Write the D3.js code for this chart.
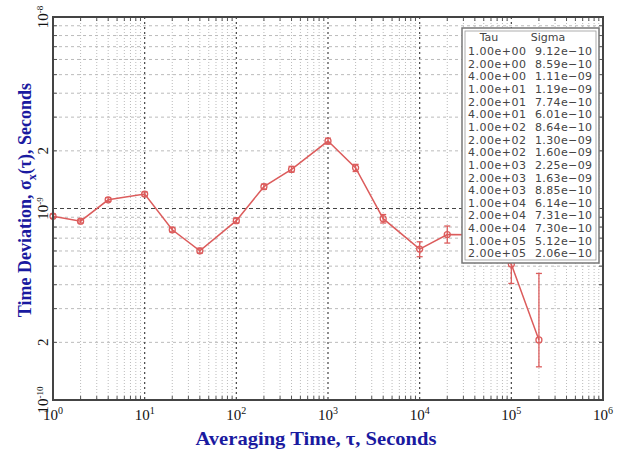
<!DOCTYPE html>
<html>
<head>
<meta charset="utf-8">
<script src="https://cdn.jsdelivr.net/npm/d3@7"></script>
<style>
body { margin: 0; background: #fff; }
svg { display: block; }
</style>
</head>
<body>
<script>
const WIDTH = 635, HEIGHT = 450;
const M = {left: 53, right: 32, top: 17, bottom: 50};
const INNER_W = WIDTH - M.left - M.right;
const INNER_H = HEIGHT - M.top - M.bottom;

var tau = [1, 2, 4, 10, 20, 40, 100, 200, 400, 1000, 2000, 4000, 1e4, 2e4, 4e4, 1e5, 2e5];
var sigma = [9.12e-10, 8.59e-10, 1.11e-9, 1.19e-9, 7.74e-10, 6.01e-10, 8.64e-10, 1.30e-9, 1.60e-9,
             2.25e-9, 1.63e-9, 8.85e-10, 6.14e-10, 7.31e-10, 7.30e-10, 5.12e-10, 2.06e-10];
var errLow = [8.9e-10, 8.4e-10, 1.09e-9, 1.16e-9, 7.55e-10, 5.85e-10, 8.4e-10, 1.26e-9, 1.55e-9,
              2.17e-9, 1.56e-9, 8.4e-10, 5.6e-10, 6.6e-10, 6.3e-10, 4.06e-10, 1.49e-10];
var errHigh = [9.35e-10, 8.8e-10, 1.14e-9, 1.22e-9, 7.95e-10, 6.2e-10, 8.9e-10, 1.34e-9, 1.66e-9,
               2.33e-9, 1.7e-9, 9.3e-10, 6.7e-10, 8.1e-10, 8.5e-10, 6.45e-10, 4.58e-10];
var xTickExp = [0, 1, 2, 3, 4, 5, 6];
var yTickLabels = [{v: 1e-8, t: "10", e: "-8"}, {v: 2e-9, t: "2", e: ""}, {v: 1e-9, t: "10", e: "-9"},
                   {v: 2e-10, t: "2", e: ""}, {v: 1e-10, t: "10", e: "-10"}];
var fmt = function(v){ return v.toExponential(2).replace(/e([+-])(\d)$/, "e$10$2"); };

var svg = d3.select('body').append('svg').attr('width', WIDTH).attr('height', HEIGHT);
var x = d3.scaleLog().domain([1, 1e6]).range([0, INNER_W]);
var y = d3.scaleLog().domain([1e-10, 1e-8]).range([INNER_H, 0]);
var g = svg.append('g').attr('transform', 'translate(' + M.left + ',' + M.top + ')');

// minor + major tick values
var xMinor = [], yMinor = [];
for (var d = 0; d < 6; d++) for (var k = 2; k < 10; k++) xMinor.push(k * Math.pow(10, d));
for (var d2 = -10; d2 < -8; d2++) for (var k2 = 2; k2 < 10; k2++) yMinor.push(k2 * Math.pow(10, d2));

// grid
g.append('g').selectAll('line').data(xMinor).enter().append('line')
  .attr('x1', d => x(d)).attr('x2', d => x(d)).attr('y1', 0).attr('y2', INNER_H)
  .attr('stroke', '#bbb').attr('stroke-width', 1).attr('stroke-dasharray', '1,2');
g.append('g').selectAll('line').data(yMinor).enter().append('line')
  .attr('y1', d => y(d)).attr('y2', d => y(d)).attr('x1', 0).attr('x2', INNER_W)
  .attr('stroke', '#bbb').attr('stroke-width', 1).attr('stroke-dasharray', '3,3');
g.append('g').selectAll('line').data([10, 100, 1000, 1e4, 1e5]).enter().append('line')
  .attr('x1', d => x(d)).attr('x2', d => x(d)).attr('y1', 0).attr('y2', INNER_H)
  .attr('stroke', '#444').attr('stroke-width', 1.2).attr('stroke-dasharray', '2,3');
g.append('line').attr('x1', 0).attr('x2', INNER_W).attr('y1', y(1e-9)).attr('y2', y(1e-9))
  .attr('stroke', '#444').attr('stroke-width', 1.2).attr('stroke-dasharray', '4,3');

// minor ticks on the frame
var tk = g.append('g').attr('stroke', '#555');
xMinor.forEach(function(v){
  tk.append('line').attr('x1', x(v)).attr('x2', x(v)).attr('y1', 0).attr('y2', 4);
  tk.append('line').attr('x1', x(v)).attr('x2', x(v)).attr('y1', INNER_H).attr('y2', INNER_H - 4);
});
yMinor.forEach(function(v){
  tk.append('line').attr('y1', y(v)).attr('y2', y(v)).attr('x1', 0).attr('x2', 4);
  tk.append('line').attr('y1', y(v)).attr('y2', y(v)).attr('x1', INNER_W).attr('x2', INNER_W - 4);
});

// series
var col = '#dc5c5c';
var pts = tau.map(function(t, i){ return {x: t, y: sigma[i], lo: errLow[i], hi: errHigh[i]}; });
g.append('path').datum(pts)
  .attr('d', d3.line().x(d => x(d.x)).y(d => y(d.y)))
  .attr('fill', 'none').attr('stroke', col).attr('stroke-width', 1.5);
var eb = g.append('g').attr('stroke', col).attr('stroke-width', 1.3);
pts.forEach(function(p){
  var cx = x(p.x);
  eb.append('line').attr('x1', cx).attr('x2', cx).attr('y1', y(p.lo)).attr('y2', y(p.hi));
  eb.append('line').attr('x1', cx - 3).attr('x2', cx + 3).attr('y1', y(p.lo)).attr('y2', y(p.lo));
  eb.append('line').attr('x1', cx - 3).attr('x2', cx + 3).attr('y1', y(p.hi)).attr('y2', y(p.hi));
});
g.append('g').selectAll('circle').data(pts).enter().append('circle')
  .attr('cx', d => x(d.x)).attr('cy', d => y(d.y)).attr('r', 3)
  .attr('fill', 'none').attr('stroke', col).attr('stroke-width', 1.3);

// frame
g.append('rect').attr('width', INNER_W).attr('height', INNER_H)
  .attr('fill', 'none').attr('stroke', '#444').attr('stroke-width', 2);

// legend table
var lg = g.append('g').attr('transform', 'translate(' + (462 - M.left) + ',' + (28 - M.top) + ')');
lg.append('rect').attr('width', 137).attr('height', 235).attr('fill', '#fff')
  .attr('stroke', '#777').attr('stroke-width', 1.5);
lg.append('rect').attr('x', 3).attr('y', 3).attr('width', 131).attr('height', 229).attr('fill', 'none')
  .attr('stroke', '#999').attr('stroke-width', 0.8);
lg.append('text').attr('x', 27).attr('y', 13).attr('text-anchor', 'middle').text('Tau');
lg.append('text').attr('x', 86).attr('y', 13).attr('text-anchor', 'middle').text('Sigma');
pts.forEach(function(p, i){
  var yy = 27 + i * 12.65;
  lg.append('text').attr('x', 6).attr('y', yy).attr('textLength', 58).text(fmt(p.x));
  lg.append('text').attr('x', 73).attr('y', yy).attr('textLength', 57).text(fmt(p.y).replace("-", "\u2212"));
});
lg.selectAll('text').attr('font-family', 'DejaVu Sans, sans-serif').attr('font-size', 11)
  .attr('fill', '#444');

// x tick labels
var xl = svg.append('g').attr('font-family', 'Liberation Serif, serif').attr('fill', '#111');
xTickExp.forEach(function(e){
  var t = xl.append('text').attr('x', M.left + x(Math.pow(10, e))).attr('y', M.top + INNER_H + 20)
    .attr('text-anchor', 'middle').attr('font-size', 15);
  t.append('tspan').text('10');
  t.append('tspan').attr('dy', -6).attr('font-size', 10).text(e);
});

// y tick labels (rotated)
yTickLabels.forEach(function(d){
  var t = svg.append('text').attr('font-family', 'Liberation Serif, serif').attr('fill', '#111')
    .attr('font-size', 15).attr('text-anchor', 'middle')
    .attr('transform', 'translate(' + (M.left - 5) + ',' + (M.top + y(d.v)) + ') rotate(-90)');
  t.append('tspan').text(d.t);
  if (d.e) t.append('tspan').attr('dy', -5).attr('font-size', 9).text(d.e);
});

// axis titles
svg.append('text').attr('x', 316).attr('y', 445).attr('text-anchor', 'middle')
  .attr('font-family', 'Liberation Serif, serif').attr('font-size', 19).attr('font-weight', 'bold')
  .attr('fill', '#1a1aa0').attr('textLength', 241).attr('lengthAdjust', 'spacingAndGlyphs')
  .text('Averaging Time, \u03c4, Seconds');
var yt = svg.append('text').attr('text-anchor', 'middle')
  .attr('font-family', 'Liberation Serif, serif').attr('font-size', 18).attr('font-weight', 'bold')
  .attr('fill', '#1a1aa0')
  .attr('transform', 'translate(31,200) rotate(-90)');
yt.append('tspan').text('Time Deviation, \u03c3');
yt.append('tspan').attr('dy', 5).attr('font-size', 12).text('x');
yt.append('tspan').attr('dy', -5).text('(\u03c4), Seconds');
</script>
</body>
</html>
